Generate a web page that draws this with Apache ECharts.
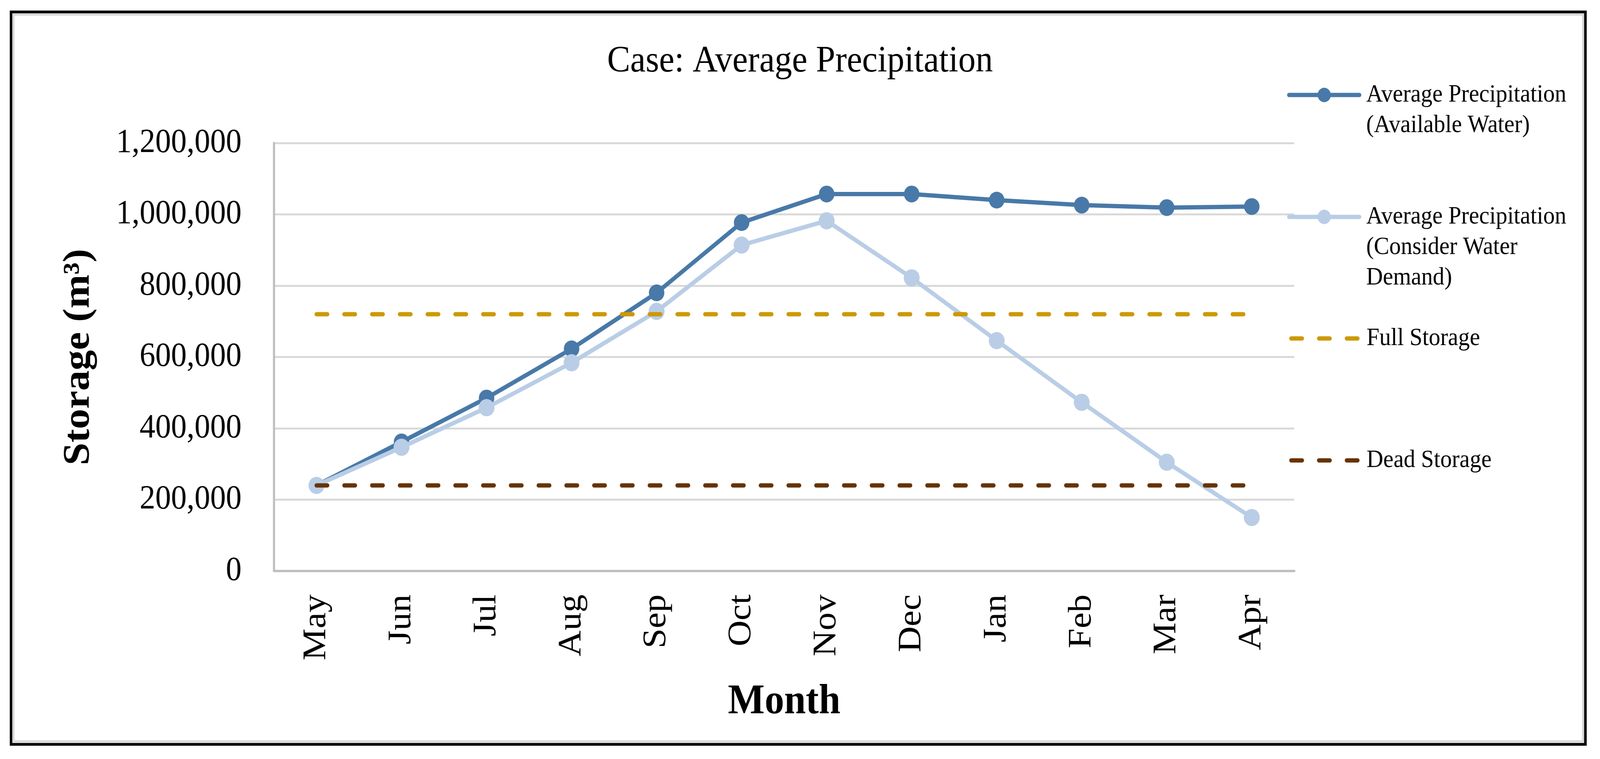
<!DOCTYPE html>
<html>
<head>
<meta charset="utf-8">
<script src="https://cdn.jsdelivr.net/npm/echarts@6/dist/echarts.min.js"></script>
<style>
  html, body { margin: 0; padding: 0; background: #ffffff; overflow: hidden; }
  #chart { width: 4438px; height: 1942px; transform-origin: 0 0; }
</style>
</head>
<body>
<div id="chart"></div>
<script>
// ---- data ----
const categories = ['May', 'Jun', 'Jul', 'Aug', 'Sep', 'Oct', 'Nov', 'Dec', 'Jan', 'Feb', 'Mar', 'Apr'];
const availableWater = [240000, 362000, 485000, 623000, 780000, 977000, 1057000, 1057000, 1040000, 1026000, 1019000, 1022000];
const considerDemand = [240000, 347000, 458000, 584000, 728000, 914000, 982000, 822000, 646000, 473000, 305000, 150000];
const fullStorage = [720000, 720000, 720000, 720000, 720000, 720000, 720000, 720000, 720000, 720000, 720000, 720000];
const deadStorage = [240000, 240000, 240000, 240000, 240000, 240000, 240000, 240000, 240000, 240000, 240000, 240000];
const yMin = 0;
const yMax = 1200000;
const yStep = 200000;

const titleText = 'Case: Average Precipitation';
const xAxisName = 'Month';
const yAxisName = 'Storage (m³)';
const seriesNames = [
  'Average Precipitation (Available Water)',
  'Average Precipitation (Consider Water Demand)',
  'Full Storage',
  'Dead Storage'
];
const legendLines = {
  'Average Precipitation (Available Water)': ['Average Precipitation', '(Available Water)'],
  'Average Precipitation (Consider Water Demand)': ['Average Precipitation', '(Consider Water', 'Demand)'],
  'Full Storage': ['Full Storage'],
  'Dead Storage': ['Dead Storage']
};

// ---- styles ----
const FONT = 'Liberation Serif';
const C_DARK = '#4879A8';
const C_LIGHT = '#B9CDE6';
const C_FULL = '#CC9900';
const C_DEAD = '#663300';
const DASH = [30, 47];

// design size of the figure; fit it to the actual viewport
const DESIGN_W = 4438;
const DESIGN_H = 1942;
const container = document.getElementById('chart');
const vw = window.innerWidth || DESIGN_W;
const vh = window.innerHeight || DESIGN_H;
const sx = vw / DESIGN_W;
const sy = vh / DESIGN_H;
if (Math.abs(sx - 1) > 1e-3 || Math.abs(sy - 1) > 1e-3) {
  container.style.transform = 'scale(' + sx + ',' + sy + ')';
}

const chart = echarts.init(container, null, { renderer: 'canvas', width: DESIGN_W, height: DESIGN_H });

function legendFormatter(name) {
  const lines = legendLines[name] || [name];
  // leading blank lines keep the icon level with the first text line
  const pad = lines.length - 1;
  const blanks = new Array(pad).fill('');
  return blanks.concat(lines).join('\n');
}

function makeLegend(name, top, left, itemWidth, hideSymbol) {
  const item = hideSymbol ? { name: name, itemStyle: { opacity: 0 } } : { name: name };
  return {
    data: [item],
    orient: 'vertical',
    left: left,
    top: top,
    padding: 0,
    itemWidth: itemWidth,
    itemHeight: 46,
    selectedMode: false,
    formatter: legendFormatter,
    lineStyle: { width: 11, cap: 'round' },
    textStyle: {
      fontFamily: FONT,
      fontSize: 64,
      lineHeight: 78,
      color: '#000000',
      padding: [0, 0, 0, 14]
    }
  };
}

const option = {
  animation: false,
  backgroundColor: '#ffffff',
  title: {
    text: titleText,
    left: 'center',
    top: 110,
    padding: 0,
    textStyle: { fontFamily: FONT, fontSize: 96, fontWeight: 'normal', color: '#000000' }
  },
  legend: [
    makeLegend(seriesNames[0], 243 - 39 * 3, 3570, 195, false),
    makeLegend(seriesNames[1], 555 - 39 * 5, 3570, 195, false),
    makeLegend(seriesNames[2], 866 - 39, 3576, 190, true),
    makeLegend(seriesNames[3], 1178 - 39, 3576, 190, true)
  ],
  grid: {
    left: 760,
    right: 848,
    top: 366,
    bottom: 481,
    containLabel: false,
    outerBoundsMode: 'none'
  },
  xAxis: {
    type: 'category',
    data: categories,
    boundaryGap: true,
    name: xAxisName,
    nameLocation: 'middle',
    nameGap: 282,
    nameTextStyle: { fontFamily: FONT, fontSize: 108, fontWeight: 'bold', color: '#000000' },
    axisLine: { show: true, lineStyle: { color: '#BFBFBF', width: 6 } },
    axisTick: { show: false },
    axisLabel: { rotate: 90, margin: 60, interval: 0, fontFamily: FONT, fontSize: 92, color: '#000000' },
    splitLine: { show: false }
  },
  yAxis: {
    type: 'value',
    min: yMin,
    max: yMax,
    interval: yStep,
    name: yAxisName,
    nameLocation: 'middle',
    nameGap: 489,
    nameTextStyle: { fontFamily: FONT, fontSize: 104, fontWeight: 'bold', color: '#000000' },
    axisLine: { show: true, lineStyle: { color: '#BFBFBF', width: 6 } },
    axisTick: { show: false },
    axisLabel: {
      margin: 90, fontFamily: FONT, fontSize: 87, color: '#000000',
      formatter: function (v) { return Number(v).toLocaleString('en-US'); }
    },
    splitLine: { show: true, lineStyle: { color: '#D9D9D9', width: 5 } }
  },
  graphic: [
    { type: 'rect', silent: true, z: 100, shape: { x: 37, y: 37, width: 4354, height: 1860 },
      style: { fill: 'none', stroke: '#D9D9D9', lineWidth: 6 } },
    { type: 'rect', silent: true, z: 101, shape: { x: 30.5, y: 30.5, width: 4367, height: 1874 },
      style: { fill: 'none', stroke: '#000000', lineWidth: 7 } }
  ],
  series: [
    { name: seriesNames[0], type: 'line', data: availableWater, symbol: 'circle', symbolSize: 43, showSymbol: true,
      lineStyle: { color: C_DARK, width: 11, cap: 'round' }, itemStyle: { color: C_DARK }, z: 2 },
    { name: seriesNames[1], type: 'line', data: considerDemand, symbol: 'circle', symbolSize: 44, showSymbol: true,
      lineStyle: { color: C_LIGHT, width: 11, cap: 'round' }, itemStyle: { color: C_LIGHT }, z: 3 },
    { name: seriesNames[2], type: 'line', data: fullStorage, symbol: 'none',
      lineStyle: { color: C_FULL, width: 11, type: DASH, cap: 'round' }, itemStyle: { color: C_FULL }, z: 4 },
    { name: seriesNames[3], type: 'line', data: deadStorage, symbol: 'none',
      lineStyle: { color: C_DEAD, width: 11, type: DASH, cap: 'round' }, itemStyle: { color: C_DEAD }, z: 5 }
  ]
};

chart.setOption(option);
</script>
</body>
</html>
